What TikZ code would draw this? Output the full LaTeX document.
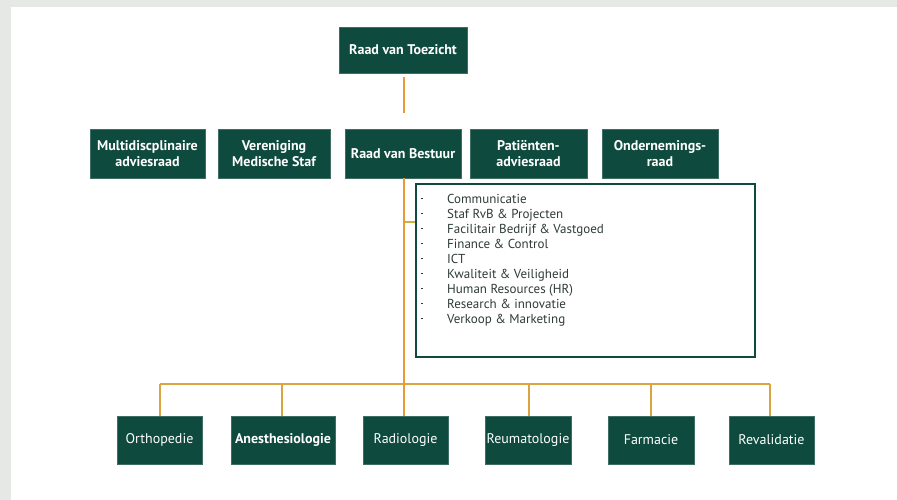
\documentclass[tikz,border=0pt]{standalone}
\usepackage{fontspec}
\setmainfont{PT Sans}
\definecolor{boxgreen}{HTML}{0E4A3D}
\definecolor{lineor}{HTML}{E89B35}
\definecolor{linegold}{HTML}{D9A540}
\definecolor{stubcol}{HTML}{C9B042}
\definecolor{listtext}{HTML}{2F3B37}
\definecolor{framegrey}{HTML}{E6E8E6}
\newcommand{\listdot}{\raisebox{3.8pt}{\rule{1.7pt}{1.7pt}}}
\begin{document}
\begin{tikzpicture}[x=1pt,y=1pt,
  orgbox/.style={draw=boxgreen!80!white, line width=0.6pt, fill=boxgreen, text=white,
    font=\fontsize{14}{16.5}\selectfont\bfseries, align=center, inner sep=1pt},
  unitbox/.style={orgbox, font=\fontsize{14}{16}\selectfont, minimum width=85pt, minimum height=48pt},
  conn/.style={draw=lineor, line width=1.6pt},
  bus/.style={draw=linegold, line width=1.6pt},
  stubline/.style={draw=stubcol, line width=1.6pt}]
\useasboundingbox (0,0) rectangle (897,-500);
\fill[white] (0,0) rectangle (897,-500);
\fill[framegrey] (0,0) rectangle (897,-7);
\fill[framegrey] (0,0) rectangle (11,-500);

% top
\node[orgbox, minimum width=128pt, minimum height=46pt] (rvt) at (403,-50) {Raad van Toezicht};

% second row
\node[orgbox, minimum width=115pt, minimum height=49pt] (multi) at (147.5,-153.5) {Multidiscplinaire\\adviesraad};
\node[orgbox, minimum width=112pt, minimum height=49pt] (veren) at (274,-153.5) {Vereniging\\Medische Staf};
\node[orgbox, minimum width=116pt, minimum height=49pt] (rvb) at (403,-153.5) {Raad van Bestuur};
\node[orgbox, minimum width=117pt, minimum height=49pt] (pat) at (528.5,-153.5) {Patiënten-\\adviesraad};
\node[orgbox, minimum width=116pt, minimum height=49pt] (onder) at (660,-153.5) {Ondernemings-\\raad};

% staff list
\node[draw=boxgreen, line width=2pt, fill=white, minimum width=339pt, minimum height=173pt] (list) at (585.5,-270.5) {};
\node[anchor=north west, inner sep=0pt, text=listtext, font=\fontsize{13}{15}\selectfont] (items) at (421,-192.5) {%
\begin{tabular}{@{}p{26pt}@{}l@{}}
\listdot & Communicatie\\
\listdot & Staf RvB \& Projecten\\
\listdot & Facilitair Bedrijf \& Vastgoed\\
\listdot & Finance \& Control\\
\listdot & ICT\\
\listdot & Kwaliteit \& Veiligheid\\
\listdot & Human Resources (HR)\\
\listdot & Research \& innovatie\\
\listdot & Verkoop \& Marketing
\end{tabular}};

% bottom row
\node[unitbox] (ortho) at (159.5,-440) {Orthopedie};
\node[unitbox, minimum width=104pt, font=\fontsize{14}{16}\selectfont\bfseries] (anest) at (283,-440) {Anesthesiologie};
\node[unitbox] (radio) at (405.5,-440) {Radiologie};
\node[unitbox, minimum width=86pt] (reuma) at (528,-440) {Reumatologie};
\node[unitbox, minimum width=86pt] (farm) at (651,-440) {Farmacie};
\node[unitbox] (reval) at (771.5,-440) {Revalidatie};

% connectors
\coordinate (topA) at (404,-77);
\coordinate (topB) at (404,-113);
\draw[conn] (topA) -- (topB);
\coordinate (rvbout) at (404,-178);
\coordinate (busM) at (404,-384);
\coordinate (busL) at (160,-384);
\coordinate (busR) at (770,-384);
\coordinate (stubA) at (404,-222);
\draw[stubline] (stubA) -- (list.west |- stubA);
\draw[bus] (busL) -- (busR);
\draw[bus] (busL) -- (busL |- ortho.north);
\draw[bus] (anest.north -| 282,0) -- (282,-384);
\draw[bus] (529,-384) -- (reuma.north -| 529,0);
\draw[bus] (651,-384) -- (farm.north -| 651,0);
\draw[bus] (busR) -- (busR |- reval.north);
\draw[conn] (rvbout) -- (busM) -- (busM |- radio.north);
\end{tikzpicture}
\end{document}
